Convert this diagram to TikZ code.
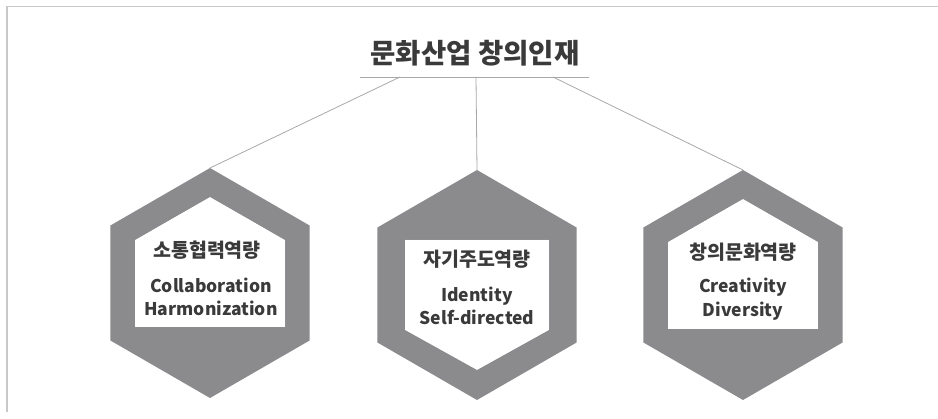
\documentclass[tikz,border=0pt]{standalone}
\usepackage{fontspec}
\setmainfont{Noto Sans CJK KR}
\usetikzlibrary{shapes.geometric}
\definecolor{hexgray}{HTML}{8B8B8D}
\definecolor{txt}{HTML}{3A3A3A}
\definecolor{linegray}{HTML}{A8A8A8}
\definecolor{framegray}{HTML}{C8C8C8}
\tikzset{
  hexnode/.style={regular polygon, regular polygon sides=6, regular polygon rotate=30, minimum size=230pt, inner sep=0pt, outer sep=0pt, fill=hexgray, draw=none},
  kortxt/.style={font=\bfseries\fontsize{19.5}{22}\selectfont, text=txt, inner sep=0pt},
  engtxt/.style={font=\bfseries\fontsize{17.5}{23.5}\selectfont, text=txt, inner sep=0pt, align=center},
  conn/.style={draw=linegray, line width=0.8pt},
  innerbox/.style={fill=white},
  shadowbox/.style={fill=black},
}
\newcommand{\houseshape}[1]{%
  (#1) ++(0,-86) -- ++(75,43) -- ++(0,87) -- ++(-150,0) -- ++(0,-87) -- cycle}
\newcommand{\downshape}[1]{%
  (#1) ++(-72,-45) -- ++(144,0) -- ++(0,90) -- ++(-72,40) -- ++(-72,-40) -- cycle}
\begin{document}
\begin{tikzpicture}[x=1pt,y=-1pt]
\useasboundingbox (0,0) rectangle (938,419);
% frame
\draw[framegray, line width=1.3pt] (938,6.5) -- (7,6.5) -- (7,412);
% title
\node[font=\bfseries\fontsize{27.5}{30}\selectfont, text=txt, inner sep=0pt] (title) at (475,53) {문화산업 창의인재};
\coordinate (ulL) at (360,77);
\coordinate (ulR) at (589,77);
\draw[conn] (ulL) -- (ulR);
\coordinate (sL) at (400,77);
\coordinate (sM) at (476,77);
\coordinate (sR) at (553,77);
% hexagons
\node[hexnode] (hL) at (210,283) {};
\node[hexnode] (hM) at (477,285) {};
\node[hexnode] (hR) at (743,285) {};
\draw[conn] (sL) -- (hL.corner 1);
\draw[conn] (sM) -- (hM.corner 1);
\draw[conn] (sR) -- (hR.corner 1);
% shadows and inner shapes
\foreach \c in {hL,hR}{
  \foreach \s/\o in {8/0.10,6/0.12,4/0.14,2/0.16}{
    \fill[shadowbox, opacity=\o, shift={(\s,\s)}] \houseshape{\c};
  }
  \fill[innerbox] \houseshape{\c};
}
\foreach \s/\o in {8/0.10,6/0.12,4/0.14,2/0.16}{
  \fill[shadowbox, opacity=\o, shift={(\s,\s)}] \downshape{hM};
}
\fill[innerbox] \downshape{hM};
% texts
\node[kortxt] (kL) at (207,250) {소통협력역량};
\node[engtxt] (eL) at (211,297) {Collaboration\\Harmonization};
\node[kortxt] (kM) at (477,259) {자기주도역량};
\node[engtxt] (eM) at (477,306) {Identity\\Self-directed};
\node[kortxt] (kR) at (743,252) {창의문화역량};
\node[engtxt] (eR) at (743,299) {Creativity\\Diversity};
\end{tikzpicture}
\end{document}
